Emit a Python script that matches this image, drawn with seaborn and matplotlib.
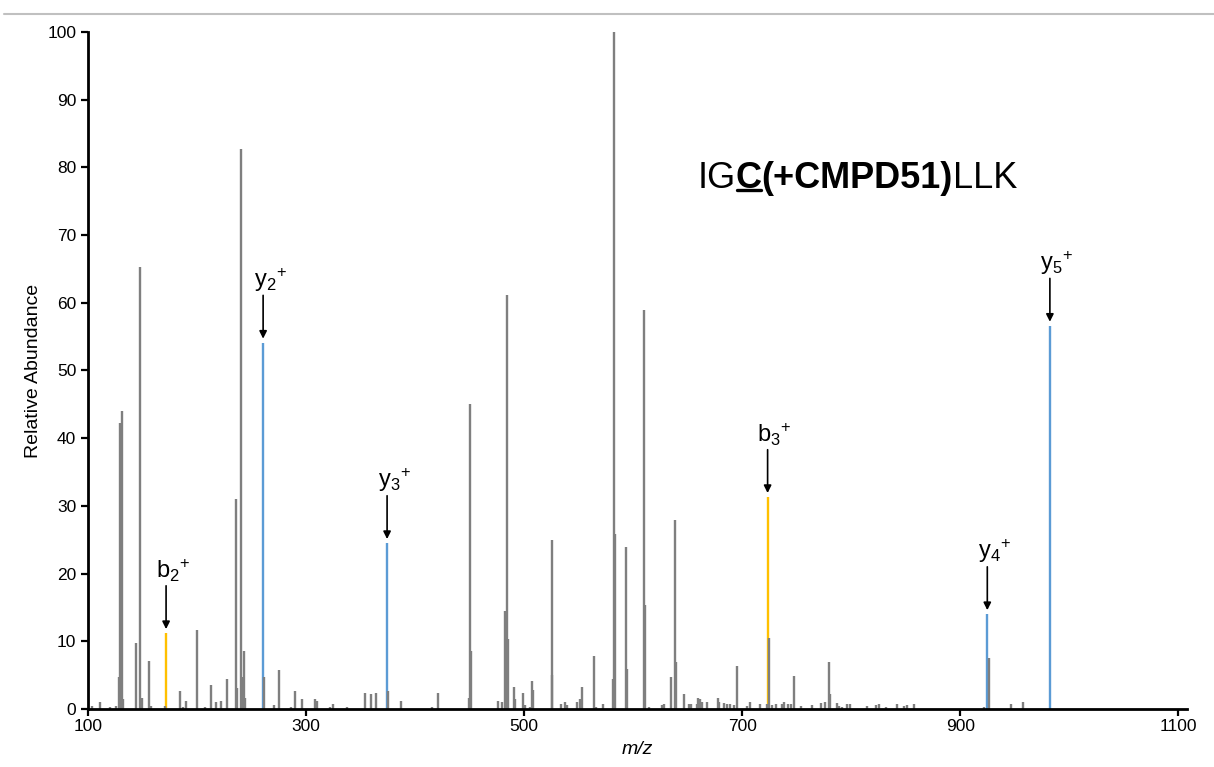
import matplotlib
matplotlib.use("Agg")
import matplotlib.pyplot as plt
from matplotlib.lines import Line2D
import numpy as np
import pandas as pd
import seaborn as sns

# Unassigned fragment peaks (m/z, relative abundance)
other_mz = [103.7, 111.3, 119.9, 126.0, 128.1, 129.7, 130.9, 132.0, 144.3, 148.0,
            149.2, 156.0, 157.5, 170.6, 184.4, 187.2, 189.6, 200.3, 207.0, 212.8,
            217.7, 222.3, 227.8, 235.5, 236.7, 240.7, 241.6, 242.8, 244.0, 261.8,
            270.6, 275.0, 286.5, 290.0, 296.3, 308.3, 310.4, 322.0, 324.8, 337.6,
            353.8, 359.3, 364.5, 375.2, 387.5, 415.9, 421.4, 449.6, 450.8, 451.7,
            476.2, 480.1, 482.3, 483.5, 484.4, 485.6, 490.5, 491.5, 499.1, 500.6,
            505.5, 507.1, 508.0, 525.1, 526.0, 533.4, 537.3, 538.9, 548.6, 551.1,
            553.5, 564.2, 565.5, 572.5, 581.4, 582.6, 583.5, 593.6, 594.2, 609.8,
            610.8, 614.4, 626.0, 628.2, 634.9, 638.3, 639.5, 646.5, 651.1, 652.6,
            658.1, 659.7, 661.2, 663.0, 667.3, 677.4, 678.9, 683.5, 685.7, 688.4,
            692.4, 695.5, 704.0, 707.1, 716.2, 722.7, 724.2, 727.0, 731.0, 736.4,
            738.6, 742.2, 744.7, 747.7, 753.6, 764.3, 772.5, 775.9, 779.6, 780.5,
            786.9, 788.4, 791.2, 796.1, 798.8, 814.4, 822.7, 825.7, 831.8, 842.2,
            848.7, 851.1, 857.2, 922.0, 926.0, 946.8, 957.5]
other_int = [0.4, 1.1, 0.3, 0.5, 4.7, 42.2, 44.0, 1.5, 9.8, 65.3,
             1.6, 7.1, 0.5, 0.4, 2.6, 0.3, 1.2, 11.7, 0.3, 3.5,
             1.1, 1.2, 4.5, 31.0, 3.1, 82.7, 4.7, 8.5, 1.6, 4.8,
             0.6, 5.8, 0.3, 2.6, 1.5, 1.5, 1.2, 0.3, 0.7, 0.3,
             2.4, 2.2, 2.3, 2.6, 1.2, 0.3, 2.4, 1.6, 45.0, 8.5,
             1.2, 1.0, 14.5, 2.2, 61.2, 10.3, 3.2, 1.5, 2.3, 0.6,
             0.3, 4.2, 2.8, 25.0, 5.0, 0.7, 1.0, 0.6, 1.0, 1.5,
             3.2, 7.8, 0.3, 0.7, 4.4, 100.0, 25.8, 24.0, 5.9, 59.0,
             15.3, 0.3, 0.6, 0.7, 4.7, 27.9, 6.9, 2.2, 0.7, 0.7,
             0.7, 1.7, 1.5, 1.1, 1.0, 1.7, 1.0, 0.9, 0.7, 0.7,
             0.6, 6.4, 0.4, 1.0, 0.7, 0.7, 10.5, 0.6, 0.7, 0.7,
             1.0, 0.7, 0.7, 4.9, 0.4, 0.6, 0.9, 1.0, 6.9, 2.2,
             0.9, 0.5, 0.3, 0.7, 0.7, 0.4, 0.6, 0.7, 0.3, 0.7,
             0.4, 0.6, 0.7, 0.3, 7.5, 0.8, 1.1]

# Assigned b- and y-ions
ion_names = ["b2", "y2", "y3", "b3", "y4", "y5"]
ion_series = ["b", "y", "y", "b", "y", "y"]
ion_mz = [171.6, 260.6, 374.3, 723.3, 924.8, 982.2]
ion_int = [11.2, 54.1, 24.5, 31.3, 14.0, 56.6]

x_ticks = [100, 300, 500, 700, 900, 1100]
y_ticks = list(range(0, 101, 10))

peptide_parts = ["IG", "C", "(+CMPD51)", "LLK"]

others = pd.DataFrame({"mz": other_mz, "intensity": other_int})
ions = pd.DataFrame({"name": ion_names, "series": ion_series,
                     "mz": ion_mz, "intensity": ion_int})

sns.set_theme(style="ticks")
plt.rcParams["font.family"] = ["Liberation Sans", "DejaVu Sans"]
plt.rcParams["text.color"] = "black"
plt.rcParams["axes.labelcolor"] = "black"
plt.rcParams["mathtext.fontset"] = "custom"
plt.rcParams["mathtext.rm"] = "Liberation Sans"
plt.rcParams["mathtext.it"] = "Liberation Sans:italic"

series_colors = {"b": "#ffc000", "y": "#5b9bd5"}

fig = plt.figure(figsize=(12.14, 7.67), dpi=100)
ax = fig.add_axes([0.0725, 0.0756, 0.9053, 0.8827])

ax.vlines(others["mz"], 0, others["intensity"], color="#7f7f7f", lw=1.7, zorder=2)
for s, sub in ions.groupby("series"):
    ax.vlines(sub["mz"], 0, sub["intensity"], color=series_colors[s], lw=1.7, zorder=1)

# Ion labels with downward arrows
for _, r in ions.iterrows():
    tip = r["intensity"] + 0.6
    tail = r["intensity"] + 7.0
    ax.annotate("", xy=(r["mz"], tip), xytext=(r["mz"], tail),
                arrowprops=dict(arrowstyle="-|>", color="black", lw=1.2,
                                mutation_scale=11, shrinkA=0, shrinkB=0))
    label = r"$\mathregular{%s_{%s}{}^{+}}$" % (r["name"][0], r["name"][1:])
    ax.annotate(label, xy=(r["mz"], tail), xytext=(5, 1),
                textcoords="offset points", ha="center", va="bottom",
                fontsize=17, color="black")

ax.set_xlim(100, 1108)
ax.set_ylim(0, 100)
ax.set_xticks(x_ticks)
ax.set_yticks(y_ticks)
ax.tick_params(axis="both", labelsize=12.5, length=5, width=1.6, color="black",
               labelcolor="black")
ax.tick_params(axis="x", pad=2)
sns.despine(ax=ax)
for sp in ("left", "bottom"):
    ax.spines[sp].set_linewidth(2)
    ax.spines[sp].set_color("black")
ax.set_ylabel("Relative Abundance", fontsize=14, labelpad=4)
ax.set_xlabel("m/z", fontsize=14, style="italic", labelpad=5)

# Peptide sequence with modified residue in bold and underlined
weights = ["normal", "bold", "bold", "normal"]
txt = ax.text(0.5545, 0.784, peptide_parts[0], transform=ax.transAxes,
              fontsize=26, va="center", ha="left", fontweight=weights[0],
              color="black")
pieces = [txt]
for part, w in zip(peptide_parts[1:], weights[1:]):
    txt = ax.annotate(part, xy=(1, 0), xycoords=txt, xytext=(0, 0),
                      textcoords="offset points", va="bottom", ha="left",
                      fontsize=26, fontweight=w, color="black")
    pieces.append(txt)

fig.canvas.draw()
renderer = fig.canvas.get_renderer()
bb = pieces[1].get_window_extent(renderer)
W, H = fig.get_size_inches() * fig.dpi
y_line = bb.y0 + bb.height * 0.16
fig.add_artist(Line2D([(bb.x0 + 1) / W, (bb.x1 - 1) / W], [y_line / H, y_line / H],
                      transform=fig.transFigure, color="black", lw=2.4))

# Thin gray rule along the top of the figure
fig.add_artist(Line2D([0.003, 1.0], [1 - 14 / 767, 1 - 14 / 767],
                      transform=fig.transFigure, color="#c0c0c0", lw=1.5))

fig.savefig("out.png", dpi=100)
